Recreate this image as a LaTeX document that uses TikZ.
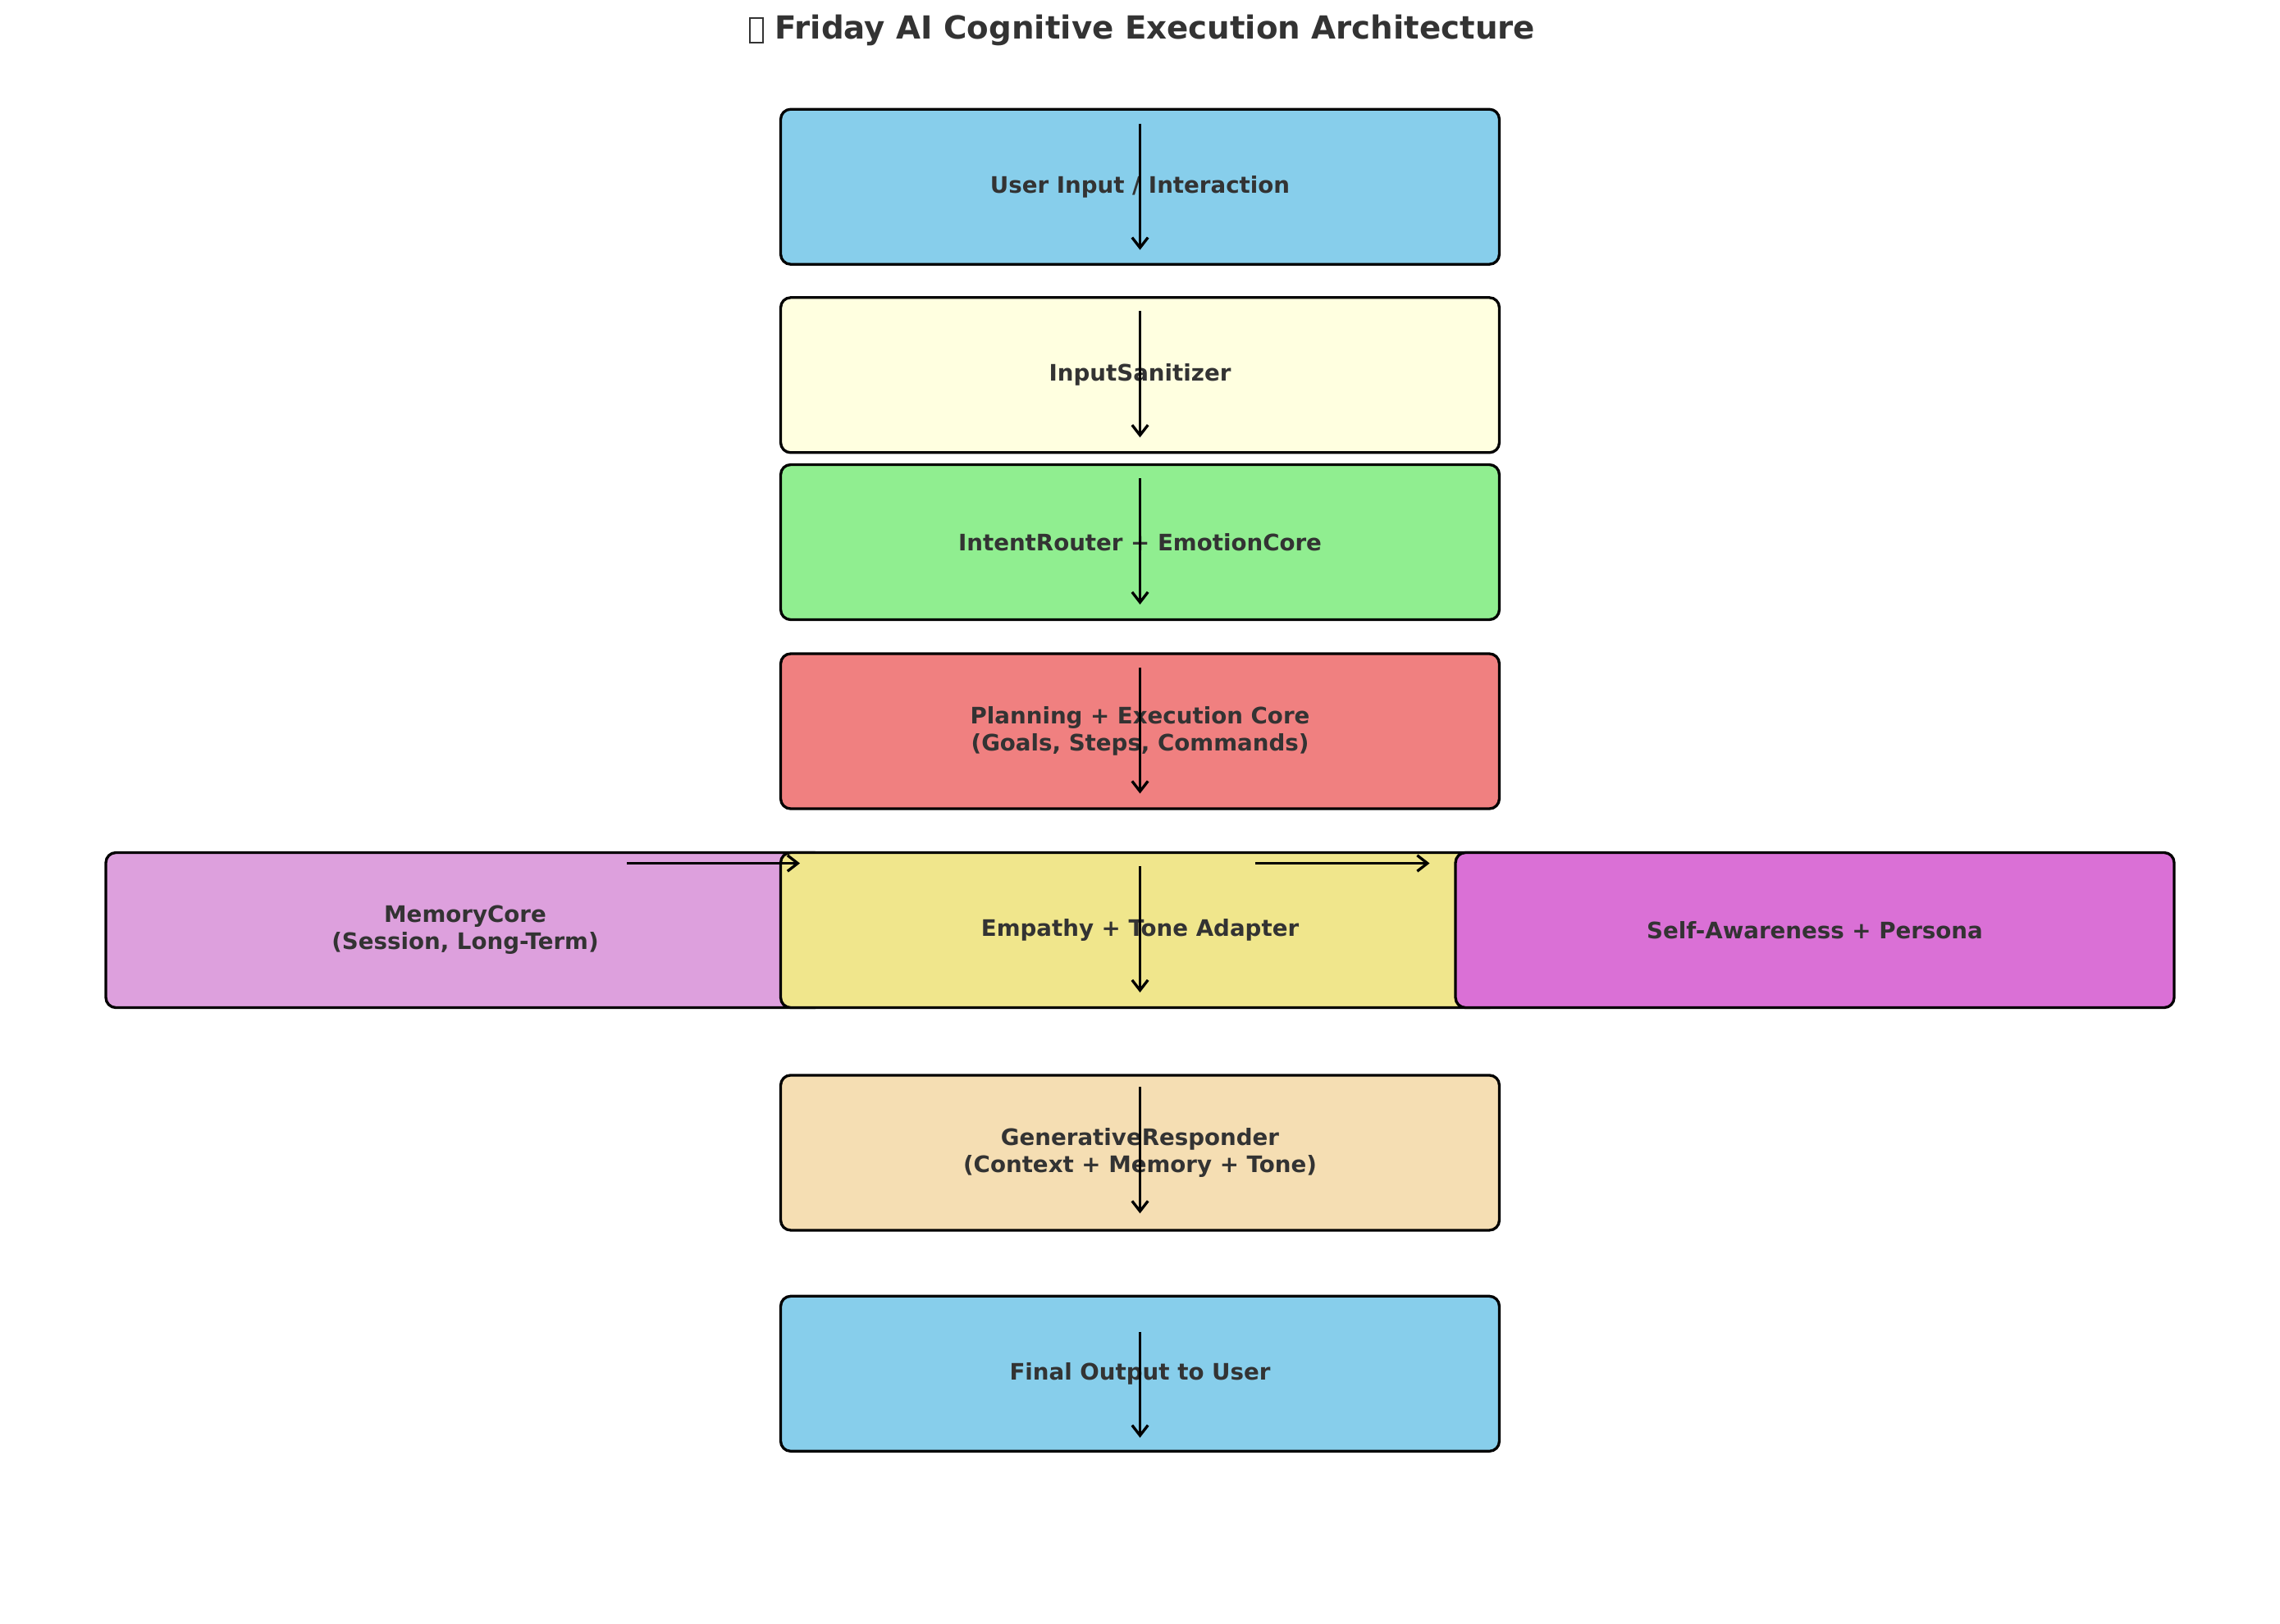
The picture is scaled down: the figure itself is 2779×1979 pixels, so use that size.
\documentclass[tikz,border=0pt]{standalone}
\usepackage{fontspec}
\setmainfont{DejaVu Sans}
\usetikzlibrary{arrows.meta,calc}
\definecolor{txt}{HTML}{333333}
\definecolor{skyblue}{HTML}{87CEEB}
\definecolor{lightyellow}{HTML}{FFFFE0}
\definecolor{lightgreen}{HTML}{90EE90}
\definecolor{lightcoral}{HTML}{F08080}
\definecolor{plum}{HTML}{DDA0DD}
\definecolor{khaki}{HTML}{F0E68C}
\definecolor{orchid}{HTML}{DA70D6}
\definecolor{wheat}{HTML}{F5DEB3}
\newcommand{\tofubox}{{\setlength{\fboxsep}{0pt}\setlength{\fboxrule}{0.8pt}\raisebox{-1.2pt}{\fbox{\rule{0pt}{10pt}\hspace{5pt}}}}}
\begin{document}
\begin{tikzpicture}[x=0.36135pt,y=-0.36135pt,
  blk/.style={draw=black, line width=1.2pt, rounded corners=4.4pt,
    minimum width=316.5pt, minimum height=68.3pt, inner sep=0pt,
    align=center, text=txt, font=\bfseries\fontsize{10}{12}\selectfont},
  arr/.style={-{Straight Barb[length=4.5pt,width=7pt,line width=1.2pt]}, line width=1.2pt, black}]
\useasboundingbox (0,0) rectangle (2779,1979);
\fill[white] (0,0) rectangle (2779,1979);

\node[text=txt, font=\bfseries\fontsize{14}{16}\selectfont] (title) at (1392,37) {\tofubox\ Friday AI Cognitive Execution Architecture};

\node[blk, fill=skyblue] (b1) at (1389.5,227.7) {User Input / Interaction};
\node[blk, fill=lightyellow] (b2) at (1389.5,457.3) {InputSanitizer};
\node[blk, fill=lightgreen] (b3) at (1389.5,661) {IntentRouter + EmotionCore};
\node[blk, fill=lightcoral] (b4) at (1389.5,891.5) {Planning + Execution Core\\(Goals, Steps, Commands)};
\node[blk, fill=plum] (mem) at (567,1134) {MemoryCore\\(Session, Long-Term)};
\node[blk, fill=khaki] (emp) at (1389.5,1134) {Empathy + Tone Adapter};
\node[blk, fill=orchid] (self) at (2212,1134) {Self-Awareness + Persona};
\node[blk, fill=wheat] (gen) at (1389.5,1405.4) {GenerativeResponder\\(Context + Memory + Tone)};
\node[blk, fill=skyblue] (out) at (1389.5,1674.8) {Final Output to User};

\draw[arr] ($(b1.center)+(0,-77)$) -- ($(b1.center)+(0,77)$);
\draw[arr] ($(b2.center)+(0,-78)$) -- ($(b2.center)+(0,76)$);
\draw[arr] ($(b3.center)+(0,-78)$) -- ($(b3.center)+(0,76)$);
\draw[arr] ($(b4.center)+(0,-78)$) -- ($(b4.center)+(0,76)$);
\draw[arr] ($(emp.center)+(0,-78)$) -- ($(emp.center)+(0,76)$);
\draw[arr] ($(gen.center)+(0,-80)$) -- ($(gen.center)+(0,74)$);
\draw[arr] ($(out.center)+(0,-51)$) -- ($(out.center)+(0,78)$);
\draw[arr] ($(mem.center)+(197,-81.5)$) -- ($(mem.center)+(408,-81.5)$);
\draw[arr] ($(emp.center)+(140,-81.5)$) -- ($(emp.center)+(353,-81.5)$);
\end{tikzpicture}
\end{document}
